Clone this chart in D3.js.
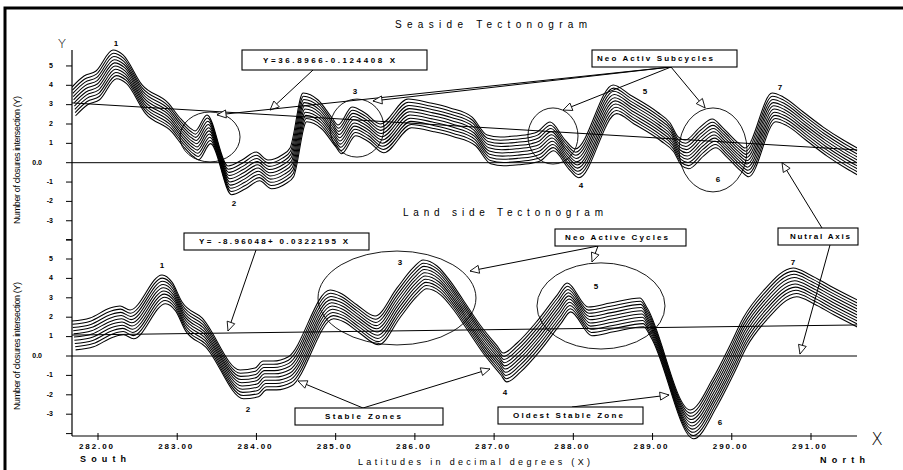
<!DOCTYPE html>
<html><head><meta charset="utf-8">
<script src="https://cdn.jsdelivr.net/npm/d3@7"></script>
<style>
html,body{margin:0;padding:0;background:#fff;}
svg{display:block;font-family:"Liberation Sans",Arial,sans-serif;}
</style></head><body>
<svg id="chart" width="903" height="470"></svg>
<script>
// Upper trace of each tectonogram ribbon: latitude (decimal degrees) and Y value
const seaLat = [281.672,281.823,281.975,282.189,282.316,282.556,282.884,283.035,283.162,283.225,
  283.376,283.641,283.818,283.995,284.146,284.323,284.424,284.588,284.778,284.955,285.030,285.207,
  285.371,285.561,285.914,286.192,286.444,286.722,286.912,287.076,287.265,287.455,287.543,287.707,
  287.896,288.023,288.503,288.717,289.058,289.222,289.323,289.412,289.601,289.753,289.891,290.081,
  290.169,290.510,290.649,290.902,291.154,291.407,291.583];
const seaY = [3.91,4.48,4.74,5.82,5.57,4.02,3.09,2.31,1.79,1.64,
  2.47,-0.17,0.14,0.55,0.14,0.40,0.76,3.60,3.24,2.31,1.95,2.88,
  2.57,2.00,3.29,3.09,2.83,2.36,1.43,1.33,1.38,1.48,1.59,2.10,
  1.17,0.71,4.02,3.50,2.62,2.05,1.33,1.17,1.84,2.26,1.79,1.02,
  0.76,3.60,3.40,2.62,1.84,1.17,0.76];
const landLat = [281.672,281.899,282.152,282.278,282.404,282.808,282.934,283.061,283.313,283.793,
  283.982,284.083,284.210,284.399,284.929,285.056,285.270,285.497,285.775,285.977,286.104,286.280,
  286.444,286.609,286.823,287.038,287.114,287.290,287.543,287.795,287.922,288.187,288.465,288.843,
  288.932,289.475,289.765,289.980,290.144,290.396,290.775,290.990,291.242,291.583];
const landY = [1.80,1.96,2.47,2.58,2.37,4.18,3.81,2.78,1.96,-0.72,
  -0.62,-0.26,-0.26,-0.05,3.40,3.25,2.63,2.06,3.51,4.54,4.95,4.64,
  3.87,2.89,1.60,0.52,0.15,0.67,1.80,3.14,3.76,2.53,2.73,2.99,
  2.47,-2.78,-1.13,0.57,1.96,3.35,4.54,4.18,3.61,2.89];

// Regression (trend) line values at the two ends of the latitude range
const trendLat = [281.672, 291.583];
const seaTrend = [3.09, 0.66];
const landTrend = [1.08, 1.60];

// Axis ticks
const latTicks = [282,283,284,285,286,287,288,289,290,291];
const latTickLabels = ["282.00","283.00","284.00","285.00","286.00","287.00","288.00","289.00","290.00","291.00"];
const yTickLabels = ["-3","-2","-1","0.0","1","2","3","4","5"];
const yTickValues = [-3,-2,-1,0,1,2,3,4,5];

// Cycle numbers written beside the traces
const cycleNames = ["1","2","3","4","5","6","7"];
const seaCycleLat = [282.227,283.717,285.244,288.097,288.905,289.827,290.609];
const seaCycleY = [6.13,-2.13,3.65,-1.20,3.65,-0.89,3.86];
const landCycleLat = [282.808,283.893,285.812,287.138,288.286,289.851,290.773];
const landCycleY = [4.64,-2.78,4.79,-1.91,3.56,-3.45,4.79];

// ribbon: number of stacked traces and step between them
const RIBBON_N = 10, RIBBON_DY = 0.165, RIBBON_DX = 0.005;

const svg = d3.select("#chart");
const x = d3.scaleLinear().domain([282, 291]).range([98, 811]);
const ySea = d3.scaleLinear().domain([-4, 5]).range([240.1, 65.95]);
const yLand = d3.scaleLinear().domain([-4, 6]).range([433.6, 239.6]);
const X0 = 72, X1 = 857, AXIS_Y = 436;

// frame
svg.append("rect").attr("x",5).attr("y",8).attr("width",905).attr("height",470)
  .attr("fill","none").attr("stroke","#000").attr("stroke-width",3);

svg.append("clipPath").attr("id","plotclip").append("rect")
  .attr("x",X0).attr("y",0).attr("width",X1-X0).attr("height",470);

const txt = (s, px, py, opts={}) => {
  const t = svg.append("text").attr("x",px).attr("y",py).text(s)
    .attr("font-size", opts.size || 8)
    .attr("font-weight", opts.weight || "normal")
    .attr("text-anchor", opts.anchor || "middle")
    .attr("dominant-baseline", opts.baseline || "middle")
    .attr("fill", opts.fill || "#000");
  if (opts.len) t.attr("textLength", opts.len).attr("lengthAdjust","spacing");
  if (opts.transform) t.attr("transform", opts.transform);
  return t;
};

// ---- axes ----
svg.append("line").attr("x1",X0).attr("x2",X0).attr("y1",50).attr("y2",AXIS_Y)
  .attr("stroke","#000").attr("stroke-width",1.2);
svg.append("line").attr("x1",X0).attr("x2",X1).attr("y1",AXIS_Y).attr("y2",AXIS_Y)
  .attr("stroke","#000").attr("stroke-width",1.2);

function yTicks(scale, extra){
  const vals = yTickValues.concat(extra);
  vals.forEach(v => {
    svg.append("line").attr("x1",X0-6).attr("x2",X0).attr("y1",scale(v)).attr("y2",scale(v))
      .attr("stroke","#000").attr("stroke-width",1);
  });
  yTickLabels.forEach((l,i) => {
    const v = yTickValues[i];
    txt(l, v===0 ? 42 : 53, scale(v), {anchor:"end", size:7, weight:"bold"});
  });
}
yTicks(ySea, [-4]);
yTicks(yLand, [-4, 6]);

latTicks.forEach((v,i) => {
  svg.append("line").attr("x1",x(v)).attr("x2",x(v)).attr("y1",AXIS_Y-3).attr("y2",AXIS_Y+4)
    .attr("stroke","#000").attr("stroke-width",1);
  txt(latTickLabels[i], x(v)-2, AXIS_Y+11, {size:8, weight:"bold", len:34});
});

// zero (neutral) lines
[ySea, yLand].forEach(s => {
  svg.append("line").attr("x1",X0).attr("x2",X1).attr("y1",s(0)).attr("y2",s(0))
    .attr("stroke","#000").attr("stroke-width",1);
});

// axis titles
txt("Y", 62, 44, {size:13, weight:"normal"}).attr("font-family","DejaVu Sans").attr("font-weight",200);
txt("X", 877, 440, {size:17}).attr("font-family","DejaVu Sans").attr("font-weight",200);
txt("Number of closures intersection (Y)", 0, 0, {size:9, len:128,
  transform:"translate(18,160) rotate(-90)"});
txt("Number of closures intersection (Y)", 0, 0, {size:9, len:128,
  transform:"translate(18,346) rotate(-90)"});
txt("South", 80, 460, {anchor:"start", size:9, weight:"bold", len:46});
txt("North", 820, 461, {anchor:"start", size:9, weight:"bold", len:45});
txt("Latitudes in decimal degrees (X)", 358, 463, {anchor:"start", size:9, len:232});
txt("Seaside Tectonogram", 395, 25, {anchor:"start", size:10, len:192});
txt("Land side Tectonogram", 403, 213, {anchor:"start", size:10, len:200});

// ---- ribbons ----
function ribbon(lat, vals, scale){
  const g = svg.append("g").attr("clip-path","url(#plotclip)");
  for (let k = 0; k < RIBBON_N; k++){
    const line = d3.line()
      .x((d,i) => x(lat[i] + k*RIBBON_DX))
      .y((d,i) => scale(d - k*RIBBON_DY))
      .curve(d3.curveMonotoneX);
    g.append("path").attr("d", line(vals)).attr("fill","none")
      .attr("stroke","#000").attr("stroke-width",1.05);
  }
}
ribbon(seaLat, seaY, ySea);
ribbon(landLat, landY, yLand);

// trend lines
[[seaTrend, ySea],[landTrend, yLand]].forEach(([vals, s]) => {
  svg.append("line").attr("x1",x(trendLat[0])).attr("x2",x(trendLat[1]))
    .attr("y1",s(vals[0])).attr("y2",s(vals[1])).attr("stroke","#000").attr("stroke-width",1);
});

// cycle numbers
cycleNames.forEach((n,i) => {
  txt(n, x(seaCycleLat[i]), ySea(seaCycleY[i]), {size:8, weight:"bold"});
  txt(n, x(landCycleLat[i]), yLand(landCycleY[i]), {size:8, weight:"bold"});
});

// ---- annotations ----
const ellipses = [
  [ySea, 283.414, 1.33, 0.379, 1.29],
  [ySea, 285.269, 1.79, 0.341, 1.50],
  [ySea, 287.743, 1.38, 0.316, 1.45],
  [ySea, 289.763, 0.66, 0.429, 2.17],
  [yLand, 285.774, 2.99, 0.997, 2.42],
  [yLand, 288.349, 2.58, 0.808, 2.22]
];
ellipses.forEach(([s, cx, cy, rx, ry]) => {
  svg.append("ellipse").attr("cx",x(cx)).attr("cy",s(cy))
    .attr("rx",x(cx+rx)-x(cx)).attr("ry",s(cy-ry)-s(cy))
    .attr("fill","none").attr("stroke","#000").attr("stroke-width",0.9);
});

function arrow(x0,y0,x1,y1){
  svg.append("line").attr("x1",x0).attr("y1",y0).attr("x2",x1).attr("y2",y1)
    .attr("stroke","#000").attr("stroke-width",1);
  const a = Math.atan2(y1-y0, x1-x0), L = 9, W = 4;
  const bx = x1 - L*Math.cos(a), by = y1 - L*Math.sin(a);
  const px = -Math.sin(a)*W, py = Math.cos(a)*W;
  svg.append("polygon")
    .attr("points", `${x1},${y1} ${bx+px},${by+py} ${bx-px},${by-py}`)
    .attr("fill","#fff").attr("stroke","#000").attr("stroke-width",0.9);
}

const arrows = [
  [313,70, ySea, 284.171, 2.72],
  [671,67, ySea, 283.502, 2.47],
  [671,67, ySea, 285.471, 3.19],
  [671,67, ySea, 287.870, 2.72],
  [671,67, ySea, 289.663, 2.83],
  [822,228, ySea, 290.634, 0.0],
  [830,245, yLand, 290.861, 0.1],
  [256,250, yLand, 283.641, 1.29],
  [598,246, yLand, 286.696, 4.38],
  [598,246, yLand, 288.236, 4.85],
  [363,408, yLand, 284.525, -1.29],
  [363,408, yLand, 286.948, -0.67],
  [572,407, yLand, 289.208, -2.01]
];
arrows.forEach(([sx, sy, s, tl, tv]) => arrow(sx, sy, x(tl), s(tv)));

function box(x0, y0, x1, y1, label, tx0, tx1){
  svg.append("rect").attr("x",x0).attr("y",y0).attr("width",x1-x0).attr("height",y1-y0)
    .attr("fill","#fff").attr("stroke","#000").attr("stroke-width",1.1);
  txt(label, tx0, (y0+y1)/2+0.5, {anchor:"start", size:8, weight:"bold", len:tx1-tx0});
}
box(242,50,427,70, "Y=36.8966-0.124408 X", 263, 395);
box(592,50,737,67, "Neo Activ Subcycles", 597, 713);
box(778,228,858,245, "Nutral Axis", 790, 850);
box(184,233,369,250, "Y= -8.96048+ 0.0322195 X", 199, 348);
box(555,229,686,246, "Neo Active Cycles", 565, 668);
box(295,408,443,425, "Stable Zones", 325, 401);
box(498,407,643,424, "Oldest Stable Zone", 513, 623);
</script>
</body></html>
